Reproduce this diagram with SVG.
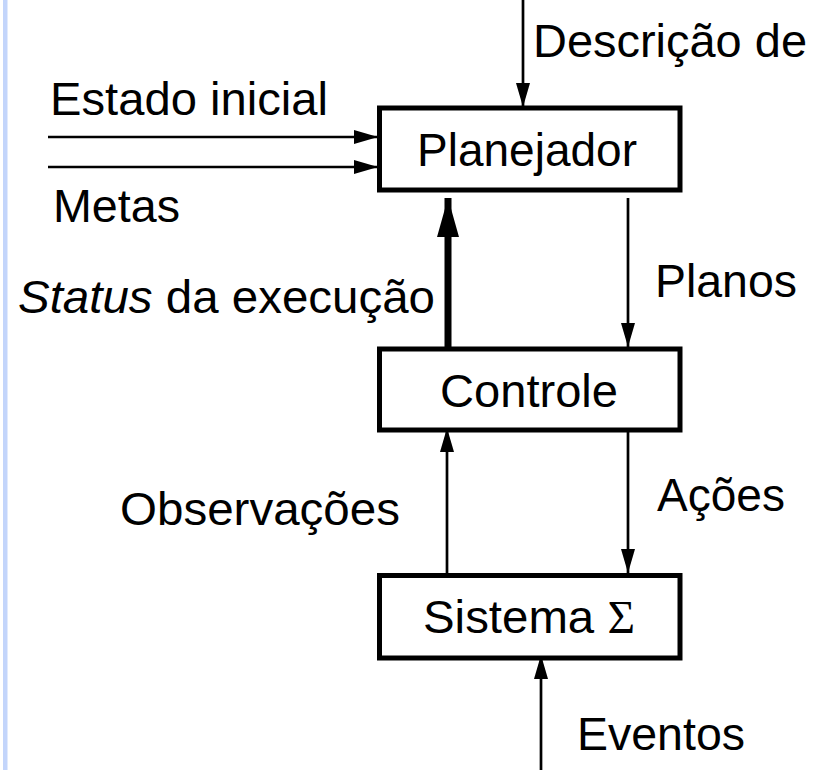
<svg xmlns="http://www.w3.org/2000/svg" width="816" height="770" viewBox="0 0 816 770">
<style>
  .box { fill: #ffffff; stroke: #000000; stroke-width: 5; }
  .lbl { font-family: "Liberation Sans", Arial, sans-serif; font-size: 46px; fill: #000000; }
  .thin { stroke: #000000; stroke-width: 2.7; fill: none; marker-end: url(#ah); }
  .thick { stroke: #000000; stroke-width: 7; fill: none; marker-end: url(#ahBig); }
</style>
<defs>
  <marker id="ah" markerUnits="userSpaceOnUse" markerWidth="24" markerHeight="14" refX="24" refY="7" orient="auto">
    <path d="M0,0 L24,7 L0,14 z" fill="#000000"/>
  </marker>
  <marker id="ahBig" markerUnits="userSpaceOnUse" markerWidth="39" markerHeight="22" refX="39" refY="11" orient="auto">
    <path d="M0,0 L39,11 L0,22 z" fill="#000000"/>
  </marker>
</defs>
<rect x="0" y="0" width="816" height="770" fill="#ffffff"/>
<rect x="3" y="0" width="4.5" height="770" fill="#c3d5fb"/>

<g id="connectors">
  <line class="thin" x1="523" y1="0" x2="523" y2="107"/>
  <line class="thin" x1="48" y1="137" x2="378" y2="137"/>
  <line class="thin" x1="48" y1="167" x2="378" y2="167"/>
  <line class="thick" x1="448" y1="349" x2="448" y2="198"/>
  <line class="thin" x1="628" y1="198" x2="628" y2="347"/>
  <line class="thin" x1="447" y1="575" x2="447" y2="428"/>
  <line class="thin" x1="628" y1="424" x2="628" y2="573"/>
  <line class="thin" x1="541" y1="770" x2="541" y2="655"/>
</g>

<g id="labels">
  <text class="lbl" x="533" y="57" textLength="274" lengthAdjust="spacingAndGlyphs">Descrição de</text>
  <text class="lbl" x="50" y="115" textLength="278" lengthAdjust="spacingAndGlyphs">Estado inicial</text>
  <text class="lbl" x="53" y="222" textLength="127" lengthAdjust="spacingAndGlyphs">Metas</text>
  <text class="lbl" x="18" y="313" textLength="417" lengthAdjust="spacingAndGlyphs"><tspan font-style="italic">Status</tspan> da execução</text>
  <text class="lbl" x="655" y="297" textLength="142" lengthAdjust="spacingAndGlyphs">Planos</text>
  <text class="lbl" x="120" y="525" textLength="280" lengthAdjust="spacingAndGlyphs">Observações</text>
  <text class="lbl" x="657" y="511" textLength="128" lengthAdjust="spacingAndGlyphs">Ações</text>
  <text class="lbl" x="577" y="750" textLength="168" lengthAdjust="spacingAndGlyphs">Eventos</text>
</g>

<g id="planejador">
  <rect class="box" x="379.5" y="108" width="300.5" height="82"/>
  <text class="lbl" x="417" y="166" textLength="220" lengthAdjust="spacingAndGlyphs">Planejador</text>
</g>

<g id="controle">
  <rect class="box" x="379.5" y="349" width="300.5" height="81"/>
  <text class="lbl" x="440" y="407" textLength="178" lengthAdjust="spacingAndGlyphs">Controle</text>
</g>

<g id="sistema">
  <rect class="box" x="379.5" y="575.5" width="300.5" height="82.5"/>
  <text class="lbl" x="423" y="633" textLength="212" lengthAdjust="spacingAndGlyphs">Sistema <tspan font-family="'Liberation Serif', 'Times New Roman', serif">Σ</tspan></text>
</g>
</svg>
